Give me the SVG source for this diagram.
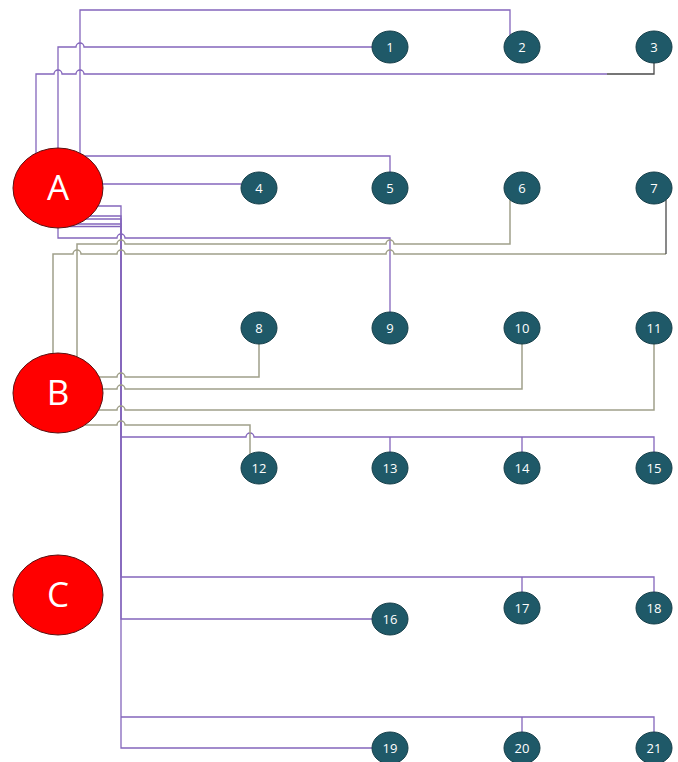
<svg xmlns="http://www.w3.org/2000/svg" width="678" height="762" viewBox="0 0 678 762">
  <style>
    .p { fill: none; stroke: #8466BC; stroke-width: 1.3; }
    .o { fill: none; stroke: #A0A08A; stroke-width: 1.5; }
    .d { fill: none; stroke: #4A4A4A; stroke-width: 1.3; }
    .big ellipse { fill: #FF0000; stroke: #5A1010; stroke-width: 1; }
    .big text { fill: #FFFFFF; font-family: "Open Sans", "Liberation Sans", sans-serif; font-size: 35px; text-anchor: middle; }
    .sm ellipse { fill: #1F5968; stroke: #163F4A; stroke-width: 1; }
    .sm text { fill: #FFFFFF; font-family: "Open Sans", "Liberation Sans", sans-serif; font-size: 13px; text-anchor: middle; }
  </style>
  <rect width="678" height="762" fill="#FFFFFF"/>

  <g id="connectors">
    <!-- A to top row -->
    <path class="p" d="M80,153 V10 H510 V35"/>
    <path class="p" d="M58,148 V47 H76 a4,4 0 0 1 8,0 H372"/>
    <path class="p" d="M36,153 V74 H54 a4,4 0 0 1 8,0 H76 a4,4 0 0 1 8,0 H607"/>
    <path class="d" d="M607,74 H654 V63"/>
    <!-- A to second row -->
    <path class="p" d="M85,156 H390 V172"/>
    <path class="p" d="M103,184 H241"/>
    <path class="p" d="M58,228 V238 H117 a4,4 0 0 1 8,0 H390 V312"/>
    <!-- A bus down to lower rows -->
    <path class="p" d="M88,206 H121 V437 H246 a4,4 0 0 1 8,0 H654 V452"/>
    <path class="p" d="M390,437 V452 M522,437 V452"/>
    <path class="p" d="M90,216 H121 V577 H654 V592 M522,577 V592"/>
    <path class="p" d="M80,219 H121 V619 H372"/>
    <path class="p" stroke="#7444B4" stroke-width="2" d="M66,224 H121 V717"/>
    <path class="p" d="M121,717 H654 V732 M522,717 V732"/>
    <path class="p" stroke="#7444B4" stroke-width="2" d="M64,226.5 H121"/>
    <path class="p" stroke="#A894D2" d="M121,717 V748 H372"/>
    <!-- B connectors -->
    <path class="o" d="M77,357 V244 H117 a4,4 0 0 1 8,0 H386 a4,4 0 0 1 8,0 H510 V200"/>
    <path class="o" d="M53,353 V254 H73 a4,4 0 0 1 8,0 H117 a4,4 0 0 1 8,0 H386 a4,4 0 0 1 8,0 H666"/>
    <path class="d" d="M666,254 V200"/>
    <path class="o" d="M99,377 H117 a4,4 0 0 1 8,0 H259 V344"/>
    <path class="o" d="M103,389 H117 a4,4 0 0 1 8,0 H522 V344"/>
    <path class="o" d="M99,410 H117 a4,4 0 0 1 8,0 H654 V344"/>
    <path class="o" d="M85,425 H117 a4,4 0 0 1 8,0 H250 V454"/>
  </g>

  <g id="A" class="big"><ellipse cx="58" cy="188" rx="45" ry="40"/><text x="58" y="200">A</text></g>
  <g id="B" class="big"><ellipse cx="58" cy="393" rx="45" ry="40"/><text x="58" y="405">B</text></g>
  <g id="C" class="big"><ellipse cx="58" cy="595" rx="45" ry="40"/><text x="58" y="607">C</text></g>

  <g id="n1" class="sm"><ellipse cx="390" cy="47" rx="18" ry="16"/><text x="390" y="51.5">1</text></g>
  <g id="n2" class="sm"><ellipse cx="522" cy="47" rx="18" ry="16"/><text x="522" y="51.5">2</text></g>
  <g id="n3" class="sm"><ellipse cx="654" cy="47" rx="18" ry="16"/><text x="654" y="51.5">3</text></g>
  <g id="n4" class="sm"><ellipse cx="259" cy="188" rx="18" ry="16"/><text x="259" y="192.5">4</text></g>
  <g id="n5" class="sm"><ellipse cx="390" cy="188" rx="18" ry="16"/><text x="390" y="192.5">5</text></g>
  <g id="n6" class="sm"><ellipse cx="522" cy="188" rx="18" ry="16"/><text x="522" y="192.5">6</text></g>
  <g id="n7" class="sm"><ellipse cx="654" cy="188" rx="18" ry="16"/><text x="654" y="192.5">7</text></g>
  <g id="n8" class="sm"><ellipse cx="259" cy="328" rx="18" ry="16"/><text x="259" y="332.5">8</text></g>
  <g id="n9" class="sm"><ellipse cx="390" cy="328" rx="18" ry="16"/><text x="390" y="332.5">9</text></g>
  <g id="n10" class="sm"><ellipse cx="522" cy="328" rx="18" ry="16"/><text x="522" y="332.5">10</text></g>
  <g id="n11" class="sm"><ellipse cx="654" cy="328" rx="18" ry="16"/><text x="654" y="332.5">11</text></g>
  <g id="n12" class="sm"><ellipse cx="259" cy="468" rx="18" ry="16"/><text x="259" y="472.5">12</text></g>
  <g id="n13" class="sm"><ellipse cx="390" cy="468" rx="18" ry="16"/><text x="390" y="472.5">13</text></g>
  <g id="n14" class="sm"><ellipse cx="522" cy="468" rx="18" ry="16"/><text x="522" y="472.5">14</text></g>
  <g id="n15" class="sm"><ellipse cx="654" cy="468" rx="18" ry="16"/><text x="654" y="472.5">15</text></g>
  <g id="n16" class="sm"><ellipse cx="390" cy="619" rx="18" ry="16"/><text x="390" y="623.5">16</text></g>
  <g id="n17" class="sm"><ellipse cx="522" cy="608" rx="18" ry="16"/><text x="522" y="612.5">17</text></g>
  <g id="n18" class="sm"><ellipse cx="654" cy="608" rx="18" ry="16"/><text x="654" y="612.5">18</text></g>
  <g id="n19" class="sm"><ellipse cx="390" cy="748" rx="18" ry="16"/><text x="390" y="752.5">19</text></g>
  <g id="n20" class="sm"><ellipse cx="522" cy="748" rx="18" ry="16"/><text x="522" y="752.5">20</text></g>
  <g id="n21" class="sm"><ellipse cx="654" cy="748" rx="18" ry="16"/><text x="654" y="752.5">21</text></g>
</svg>
